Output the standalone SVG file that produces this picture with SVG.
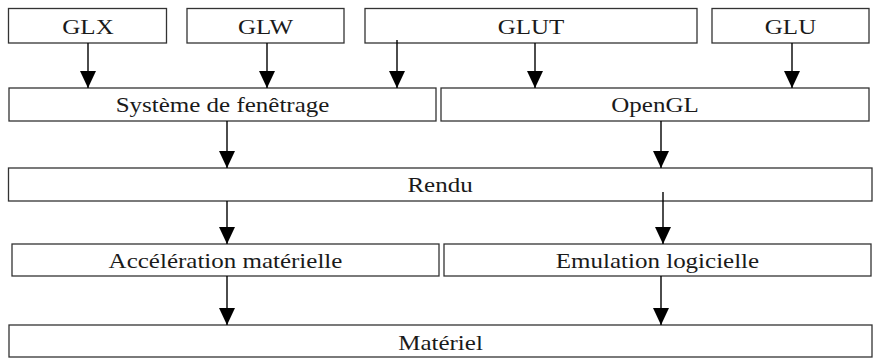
<svg xmlns="http://www.w3.org/2000/svg" width="874" height="358" viewBox="0 0 874 358">
<style>
.box{fill:#fff;stroke:#333;stroke-width:1.3}
.arr{stroke:#000;stroke-width:1.4;fill:none;marker-end:url(#ah)}
text{font-size:21px;fill:#1a1a1a;text-anchor:middle}
</style>
<defs>
<marker id="ah" markerUnits="userSpaceOnUse" markerWidth="17" markerHeight="16" viewBox="0 0 17 16" refX="17" refY="8" orient="auto">
<path d="M0,0 L17,8 L0,16 Z" fill="#000"/>
</marker>
</defs>
<rect width="874" height="358" fill="#fff"/>
<g id="glx"><rect class="box" x="8.5" y="8.5" width="158" height="34.5"/><text font-family="'Liberation Serif', serif" transform="translate(88,34) scale(1.19,1)">GLX</text></g>
<g id="glw"><rect class="box" x="187" y="8.5" width="157" height="34.5"/><text font-family="'Liberation Serif', serif" transform="translate(265.5,34) scale(1.19,1)">GLW</text></g>
<g id="glut"><rect class="box" x="365" y="8.5" width="332" height="34.5"/><text font-family="'Liberation Serif', serif" transform="translate(531,34) scale(1.19,1)">GLUT</text></g>
<g id="glu"><rect class="box" x="712" y="8.5" width="157" height="34.5"/><text font-family="'Liberation Serif', serif" transform="translate(790.5,34) scale(1.19,1)">GLU</text></g>
<g id="systeme"><rect class="box" x="9" y="88" width="427" height="33"/><text font-family="'Liberation Serif', serif" transform="translate(222.5,112) scale(1.19,1)">Système de fenêtrage</text></g>
<g id="opengl"><rect class="box" x="441" y="88" width="428" height="33"/><text font-family="'Liberation Serif', serif" transform="translate(655,112) scale(1.19,1)">OpenGL</text></g>
<g id="rendu"><rect class="box" x="8.5" y="168" width="863.5" height="33"/><text font-family="'Liberation Serif', serif" transform="translate(440,192) scale(1.19,1)">Rendu</text></g>
<g id="acceleration"><rect class="box" x="12" y="244" width="427" height="32"/><text font-family="'Liberation Serif', serif" transform="translate(225.5,268) scale(1.19,1)">Accélération matérielle</text></g>
<g id="emulation"><rect class="box" x="444" y="244" width="427" height="32"/><text font-family="'Liberation Serif', serif" transform="translate(657.5,268) scale(1.19,1)">Emulation logicielle</text></g>
<g id="materiel"><rect class="box" x="9" y="325" width="863" height="32"/><text font-family="'Liberation Serif', serif" transform="translate(440.5,350) scale(1.19,1)">Matériel</text></g>
<g id="connectors">
<line class="arr" x1="88" y1="43" x2="88" y2="88"/>
<line class="arr" x1="267" y1="43" x2="267" y2="88"/>
<line class="arr" x1="397" y1="40" x2="397" y2="88"/>
<line class="arr" x1="535" y1="43" x2="535" y2="88"/>
<line class="arr" x1="792" y1="43" x2="792" y2="88"/>
<line class="arr" x1="227" y1="121" x2="227" y2="168"/>
<line class="arr" x1="661" y1="121" x2="661" y2="168"/>
<line class="arr" x1="227" y1="201" x2="227" y2="244"/>
<line class="arr" x1="663" y1="192" x2="663" y2="244"/>
<line class="arr" x1="227" y1="276" x2="227" y2="325"/>
<line class="arr" x1="661" y1="276" x2="661" y2="325"/>
</g>
</svg>
